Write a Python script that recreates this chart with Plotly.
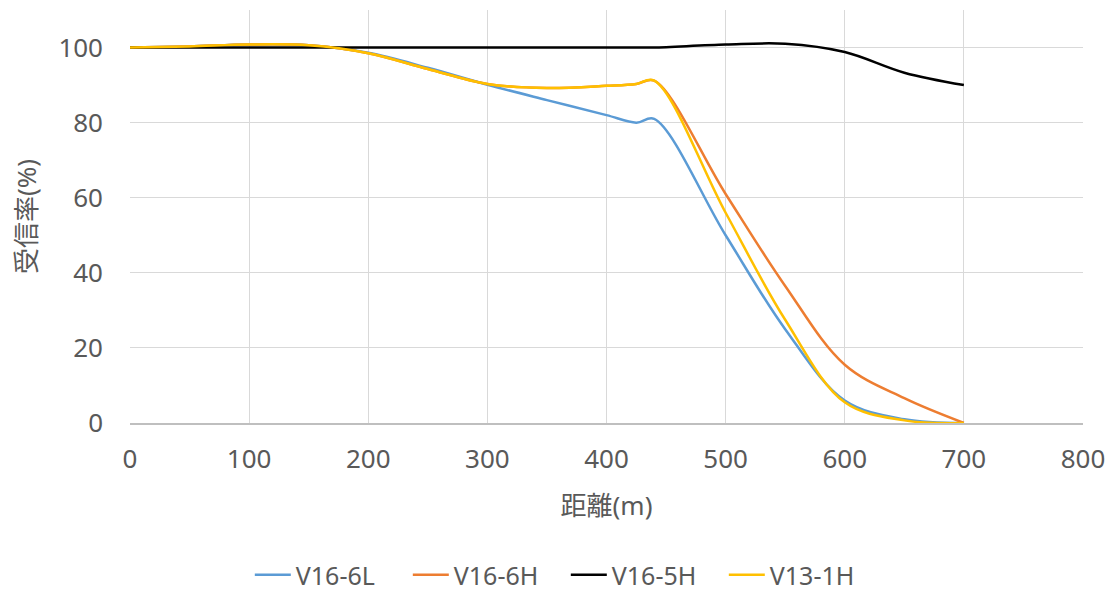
import plotly.graph_objects as go

x_vals = [0, 50, 100, 150, 200, 250, 300, 350, 400, 425, 440, 500, 550, 600, 650, 700]
v16_6l = [100, 100.3, 100.8, 100.6, 98.6, 94.6, 90.1, 86.0, 82.0, 80.0, 81.0, 50.0, 25.0, 6.0, 1.0, 0.0]
v16_6h = [100, 100.3, 100.8, 100.6, 98.5, 94.3, 90.3, 89.2, 89.8, 90.3, 91.2, 61.0, 36.5, 15.5, 6.6, 0.0]
v16_5h = [100, 100, 100, 100, 100, 100, 100, 100, 100, 100, 100, 100.8, 101.0, 98.8, 93.3, 90.0]
v13_1h = [100, 100.3, 100.8, 100.6, 98.5, 94.3, 90.3, 89.2, 89.8, 90.3, 91.2, 56.0, 27.5, 5.5, 0.7, 0.0]

names = ["V16-6L", "V16-6H", "V16-5H", "V13-1H"]
series = [v16_6l, v16_6h, v16_5h, v13_1h]
colors = ["#5B9BD5", "#ED7D31", "#000000", "#FFC000"]

FONT = "'Noto Sans', 'Noto Sans CJK JP', sans-serif"
TXT = "#595959"

fig = go.Figure()
for n, s, c in zip(names, series, colors):
    fig.add_trace(go.Scatter(x=x_vals, y=s, name=n, mode="lines",
                             line=dict(color=c, width=2.5, shape="spline", smoothing=1.0)))

fig.update_layout(
    width=1116, height=592,
    margin=dict(l=130, r=33, t=10, b=169),
    paper_bgcolor="white", plot_bgcolor="white",
    font=dict(family=FONT, color=TXT, size=26),
    showlegend=True,
    legend=dict(orientation="h", x=0.507, xanchor="center", xref="container",
                y=1 - 575 / 592, yanchor="middle", yref="container",
                font=dict(size=25, color=TXT), itemwidth=36, tracegroupgap=0,
                entrywidth=107, entrywidthmode="pixels"),
    xaxis=dict(range=[0, 800], dtick=100, showgrid=True, gridcolor="#d9d9d9", gridwidth=1,
               zeroline=False, showline=True, linecolor="#bfbfbf", linewidth=1.5,
               ticks="", ticklabelstandoff=12,
               tickfont=dict(size=26, color=TXT),
               title=dict(text="距離(m)", font=dict(size=26, color=TXT), standoff=22)),
    yaxis=dict(range=[0, 110], tickvals=[0, 20, 40, 60, 80, 100], showgrid=True,
               gridcolor="#d9d9d9", gridwidth=1, zeroline=False, showline=False,
               ticks="", ticklabelstandoff=26,
               tickfont=dict(size=26, color=TXT),
               title=dict(text="受信率(%)", font=dict(size=26, color=TXT), standoff=14)),
)

fig.write_html("out.html")
